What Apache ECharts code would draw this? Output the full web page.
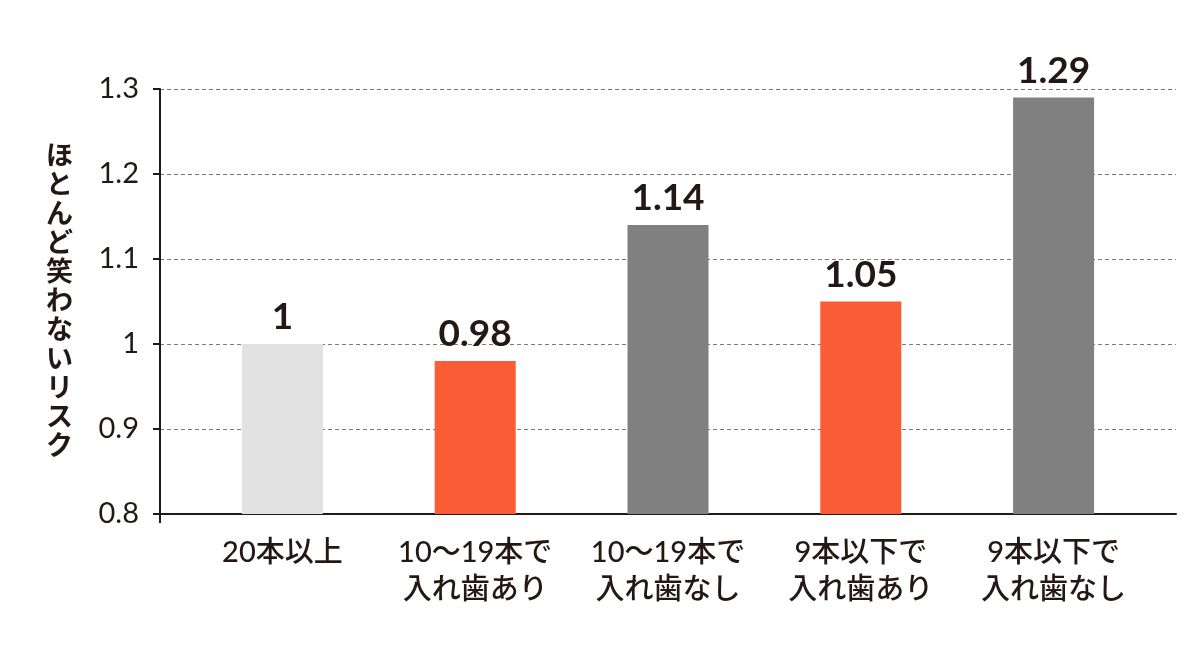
<!DOCTYPE html>
<html>
<head>
<meta charset="utf-8">
<script src="https://cdn.jsdelivr.net/npm/echarts@6/dist/echarts.min.js"></script>
<style>
  html, body { margin: 0; padding: 0; background: #fff; }
  #chart { width: 1200px; height: 648px; }
</style>
</head>
<body>
<div id="chart"></div>
<script>
"use strict";
// data
var categories = ["20本以上", "10～19本で\n入れ歯あり", "10～19本で\n入れ歯なし", "9本以下で\n入れ歯あり", "9本以下で\n入れ歯なし"];
var riskValues = [1, 0.98, 1.14, 1.05, 1.29];
var barColors = ["#e2e2e2", "#fa5c35", "#818080", "#fa5c35", "#818080"];
var yName = "ほとんど笑わないリスク";

var ink = "#231815";
var font = "Lato, 'Noto Sans CJK JP', sans-serif";

var chart = echarts.init(document.getElementById("chart"));

var option = {
  backgroundColor: "#fff",
  animation: false,
  grid: [
    // frame grid: axis lines, ticks, dashed lines
    { left: 160, right: 24, top: 89, bottom: 134 },
    // bars grid
    { left: 186, right: 50, top: 89, bottom: 134 }
  ],
  xAxis: [
    {
      type: "value", gridIndex: 0, min: 0, max: 1,
      axisLine: { show: true, lineStyle: { color: ink, width: 2 } },
      axisTick: { show: true, customValues: [0], length: 9, lineStyle: { color: ink, width: 2 } },
      axisLabel: { show: false },
      splitLine: { show: false }
    },
    {
      type: "category", gridIndex: 1, data: categories,
      axisLine: { show: false },
      axisTick: { show: false },
      axisLabel: {
        interval: 0, hideOverlap: false,
        color: ink, fontFamily: font, fontSize: 29, fontWeight: 500,
        lineHeight: 37, margin: 20
      }
    }
  ],
  yAxis: [
    {
      type: "value", gridIndex: 0, min: 0.8, max: 1.3, interval: 0.1,
      name: yName.split("").join("\n"),
      nameLocation: "middle", nameRotate: 0, nameGap: 87,
      nameTextStyle: { color: ink, fontFamily: font, fontSize: 27, fontWeight: "bold", lineHeight: 29 },
      axisLine: { show: true, lineStyle: { color: ink, width: 2 } },
      axisTick: { show: true, length: 7, lineStyle: { color: ink, width: 2 } },
      axisLabel: {
        color: ink, fontFamily: font, fontSize: 29, margin: 21,
        formatter: function (v) { return String(Math.round(v * 10) / 10); }
      },
      splitLine: { show: true, lineStyle: { color: "#7a7a7a", type: [4, 3], width: 1 } }
    },
    {
      type: "value", gridIndex: 1, min: 0.8, max: 1.3, interval: 0.1,
      show: false, splitLine: { show: false }
    }
  ],
  series: [
    {
      type: "bar",
      xAxisIndex: 1,
      yAxisIndex: 1,
      barWidth: 81,
      data: riskValues.map(function (v, i) {
        return { value: v, itemStyle: { color: barColors[i] } };
      }),
      label: {
        show: true, position: "top", distance: 8,
        color: ink, fontFamily: font, fontSize: 37, fontWeight: "bold"
      }
    }
  ]
};

chart.setOption(option);
</script>
</body>
</html>
